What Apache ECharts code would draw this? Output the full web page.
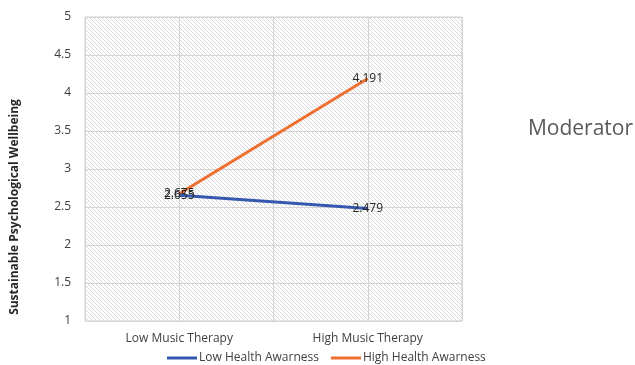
<!DOCTYPE html>
<html>
<head>
<meta charset="utf-8">
<script src="https://cdn.jsdelivr.net/npm/echarts@6/dist/echarts.min.js"></script>
<style>
  html, body { margin: 0; padding: 0; background: #fff; }
  #chart { width: 635px; height: 365px; }
</style>
</head>
<body>
<div id="chart"></div>
<script>
// Interaction plot: music therapy level vs. wellbeing, split by health awareness
const categories = ['Low Music Therapy', 'High Music Therapy'];
const lowAwareness = [2.655, 2.479];
const highAwareness = [2.675, 4.191];
const seriesNames = ['Low Health Awarness', 'High Health Awarness'];
const yTicks = [1, 1.5, 2, 2.5, 3, 3.5, 4, 4.5, 5];

// Light diagonal hatch used as plot background
function hatchPattern() {
  const c = document.createElement('canvas');
  const s = 4;
  c.width = s; c.height = s;
  const g = c.getContext('2d');
  g.fillStyle = '#ffffff';
  g.fillRect(0, 0, s, s);
  g.strokeStyle = '#d9d9d9';
  g.lineWidth = 1;
  g.beginPath();
  g.moveTo(-1, -1); g.lineTo(s + 1, s + 1);
  g.moveTo(-1, s - 1); g.lineTo(1, s + 1);
  g.moveTo(s - 1, -1); g.lineTo(s + 1, 1);
  g.stroke();
  return { image: c, repeat: 'repeat' };
}

const chart = echarts.init(document.getElementById('chart'), null, { renderer: 'canvas' });

const labelStyle = {
  show: true,
  position: 'inside',
  color: '#262626',
  fontSize: 12,
  fontFamily: 'Open Sans, Noto Sans, sans-serif',
  formatter: p => String(p.value)
};

chart.setOption({
  animation: false,
  textStyle: { fontFamily: 'Open Sans, Noto Sans, sans-serif' },
  grid: {
    left: 85, right: 173, top: 17, bottom: 44,
    show: true,
    backgroundColor: hatchPattern(),
    borderColor: '#d0d0d0',
    borderWidth: 1
  },
  legend: {
    top: 347,
    left: 162,
    itemWidth: 30,
    itemHeight: 3,
    itemGap: 12,
    icon: 'rect',
    textStyle: { color: '#404040', fontSize: 12, padding: [0, 0, 0, -3] },
    data: seriesNames
  },
  xAxis: [
    {
      type: 'category',
      data: categories,
      boundaryGap: true,
      axisLine: { show: false },
      axisTick: { show: false },
      axisLabel: { color: '#404040', fontSize: 12, margin: 12 },
      splitLine: { show: false }
    },
    {
      type: 'value',
      min: 0, max: 4, interval: 1,
      show: true,
      axisLine: { show: false },
      axisTick: { show: false },
      axisLabel: { show: false },
      splitLine: { show: true, lineStyle: { color: '#d4d4d4', width: 1 } }
    }
  ],
  yAxis: {
    type: 'value',
    min: yTicks[0],
    max: yTicks[yTicks.length - 1],
    interval: 0.5,
    axisLine: { show: false },
    axisTick: { show: false },
    axisLabel: { color: '#404040', fontSize: 12, margin: 14 },
    splitLine: { show: true, lineStyle: { color: '#d4d4d4', width: 1 } }
  },
  graphic: [
    {
      type: 'text',
      x: 15,
      y: 207,
      rotation: Math.PI / 2,
      style: {
        text: 'Sustainable Psychological Wellbeing',
        fill: '#262626',
        font: 'bold 12px "Open Sans", "Noto Sans", sans-serif',
        align: 'center',
        verticalAlign: 'middle'
      }
    },
    {
      type: 'text',
      right: 2,
      top: 119,
      style: {
        text: 'Moderator',
        fill: '#595959',
        font: '21px "Open Sans", "Noto Sans", sans-serif'
      }
    }
  ],
  series: [
    {
      name: seriesNames[0],
      type: 'line',
      data: lowAwareness,
      symbol: 'circle',
      symbolSize: 0,
      showSymbol: true,
      lineStyle: { color: '#3557ae', width: 3 },
      itemStyle: { color: '#3557ae' },
      label: labelStyle,
      z: 3
    },
    {
      name: seriesNames[1],
      type: 'line',
      data: highAwareness,
      symbol: 'circle',
      symbolSize: 0,
      showSymbol: true,
      lineStyle: { color: '#ed7030', width: 3 },
      itemStyle: { color: '#ed7030' },
      label: labelStyle,
      z: 2
    }
  ]
});
</script>
</body>
</html>
